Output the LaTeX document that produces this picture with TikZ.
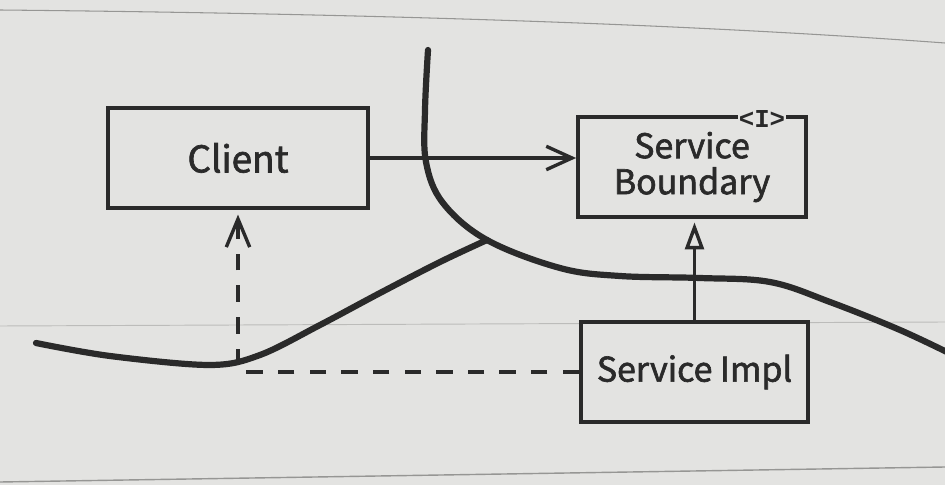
\documentclass[tikz,border=0pt]{standalone}
\usepackage{fontspec}
\newfontfamily\cjkf[FakeBold=1.8]{Noto Sans CJK KR}
\newfontfamily\monof{Liberation Mono}
\usetikzlibrary{arrows.meta}
\definecolor{pagebg}{RGB}{227,227,225}
\definecolor{ink}{RGB}{42,42,42}
\definecolor{rule}{RGB}{150,150,148}
\begin{document}
\begin{tikzpicture}[x=0.03cm,y=-0.03cm,
  box/.style={draw=ink, line width=3.2pt, text=ink,
    font=\cjkf\fontsize{29}{30.7}\selectfont, align=center, inner sep=0pt},
  bound/.style={draw=ink, line width=5.3pt, line cap=round, line join=round},
  conn/.style={draw=ink, line width=2.9pt},
  tag/.style={fill=pagebg, text=ink, font=\monof\bfseries\fontsize{22}{22}\selectfont, inner sep=1pt}
]
\fill[pagebg] (0,0) rectangle (945,485);
\useasboundingbox (0,0) rectangle (945,485);
% page rules
\draw[rule, line width=0.9pt] (0,10) .. controls (400,14) and (700,25) .. (945,43);
\draw[rule!50!pagebg, line width=0.8pt] (0,326) -- (945,322);
\draw[rule, line width=1.2pt] (0,482) -- (945,467);
% boundary curves
\draw[bound] plot[smooth, tension=0.6] coordinates {(428,50) (425,110) (426,162) (443,203) (487,240) (560,268) (620,276) (700,278) (770,282) (830,302) (900,330) (955,356)};
\draw[bound] plot[smooth, tension=0.55] coordinates {(36,343) (110,356) (210,365) (260,355) (320,325) (380,293) (440,262) (487,240)};
% boxes
\node[box, minimum width=7.8cm, minimum height=3cm, font=\cjkf\fontsize{31.5}{31.5}\selectfont] (client) at (238,158) {Client};
\node[box, minimum width=6.84cm, minimum height=3cm] (sb) at (692,167) {Service\\Boundary};
\node[box, minimum width=6.81cm, minimum height=3cm] (si) at (694.5,372) {Service Impl};
\node[tag] (iface) at (762,119) {<I>};
% connectors
\draw[conn, -{Straight Barb[length=22pt,width=20pt]}] (client.east) -- (client.east -| sb.west);
\draw[conn, -{Triangle[open, length=23pt, width=16pt]}, shorten >=3pt] (si.north) -- (si.north |- sb.south);
\draw[conn, dash pattern=on 14pt off 13pt, -{Straight Barb[length=24pt,width=20pt]}, shorten >=4pt] (si.west) -| (client.south);
\end{tikzpicture}
\end{document}
